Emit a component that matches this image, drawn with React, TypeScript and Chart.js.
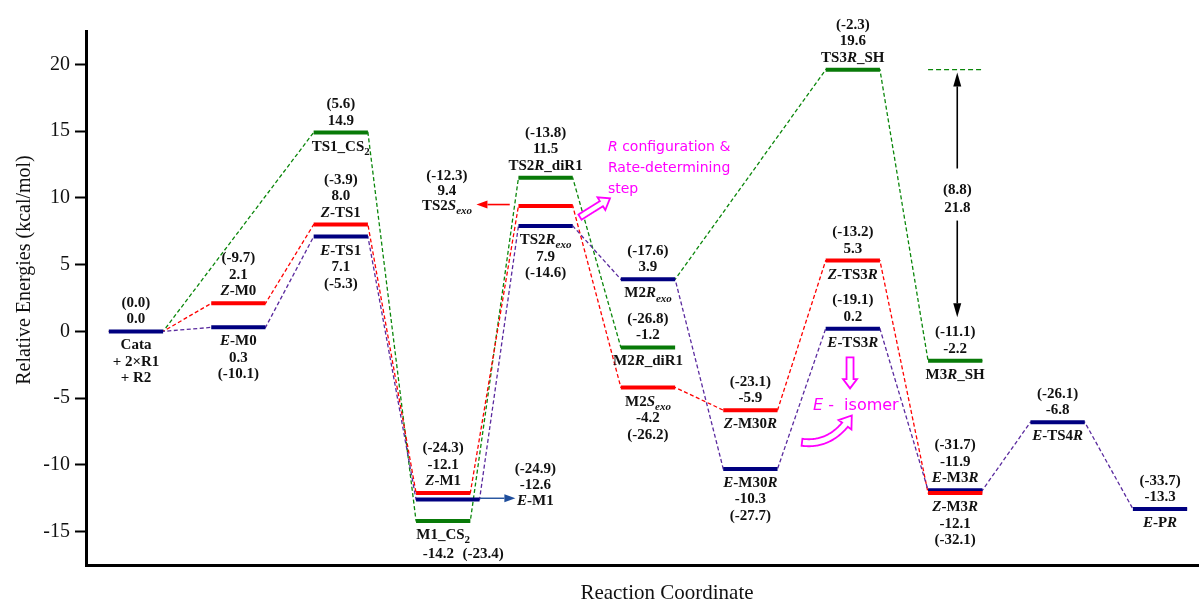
import React, { useEffect, useRef } from 'react';
import { Chart, registerables } from 'chart.js';

Chart.register(...registerables);

// ---------------- data ----------------
const levelNames = ['Cata', 'Z-M0', 'E-M0', 'TS1_CS2', 'Z-TS1', 'E-TS1', 'Z-M1', 'E-M1', 'M1_CS2', 'TS2R_diR1', 'TS2Sexo', 'TS2Rexo', 'M2Rexo', 'M2R_diR1', 'M2Sexo', 'Z-M30R', 'E-M30R', 'TS3R_SH', 'Z-TS3R', 'E-TS3R', 'M3R_SH', 'E-M3R', 'Z-M3R', 'E-TS4R', 'E-PR'];
const levelLabels = ['Cata\n+ 2×R1\n+ R2', '*Z*-M0', '*E*-M0', 'TS1_CS~2~', '*Z*-TS1', '*E*-TS1', '*Z*-M1', '*E*-M1', 'M1_CS~2~', 'TS2*R*_diR1', 'TS2*S*~*exo*~', 'TS2*R*~*exo*~', 'M2*R*~*exo*~', 'M2*R*_diR1', 'M2*S*~*exo*~', '*Z*-M30*R*', '*E*-M30*R*', 'TS3*R*_SH', '*Z*-TS3*R*', '*E*-TS3*R*', 'M3*R*_SH', '*E*-M3*R*', '*Z*-M3*R*', '*E*-TS4*R*', '*E*-P*R*'];
const levelStep = [0, 1, 1, 2, 2, 2, 3, 3, 3, 4, 4, 4, 5, 5, 5, 6, 6, 7, 7, 7, 8, 8, 8, 9, 10];
const levelEnergy = [0.0, 2.1, 0.3, 14.9, 8.0, 7.1, -12.1, -12.6, -14.2, 11.5, 9.4, 7.9, 3.9, -1.2, -4.2, -5.9, -10.3, 19.6, 5.3, 0.2, -2.2, -11.9, -12.1, -6.8, -13.3];
const levelFree = [0.0, -9.7, -10.1, 5.6, -3.9, -5.3, -24.3, -24.9, -23.4, -13.8, -12.3, -14.6, -17.6, -26.8, -26.2, -23.1, -27.7, -2.3, -13.2, -19.1, -11.1, -31.7, -32.1, -26.1, -33.7];
const levelPathway = ['E', 'Z', 'E', 'S', 'Z', 'E', 'Z', 'E', 'S', 'S', 'Z', 'E', 'E', 'S', 'Z', 'Z', 'E', 'S', 'Z', 'E', 'S', 'E', 'Z', 'E', 'E'];

const pathS1 = ['Cata', 'TS1_CS2', 'M1_CS2', 'TS2R_diR1', 'M2R_diR1'];
const pathS2 = ['M2Rexo', 'TS3R_SH', 'M3R_SH'];
const pathZ = ['Cata', 'Z-M0', 'Z-TS1', 'Z-M1', 'TS2Sexo', 'M2Sexo', 'Z-M30R', 'Z-TS3R', 'Z-M3R'];
const pathE = ['Cata', 'E-M0', 'E-TS1', 'E-M1', 'TS2Rexo', 'M2Rexo', 'E-M30R', 'E-TS3R', 'E-M3R', 'E-TS4R', 'E-PR'];

const yTicks = [-15, -10, -5, 0, 5, 10, 15, 20];

const spanTop = 'TS3R_SH';
const spanBottom = 'M3R_SH';
const spanStep = 8;

const noteRate = ['*R* configuration &', 'Rate-determining', 'step'];
const noteIsomer = '*E* -  isomer';
const xTitle = 'Reaction Coordinate';
const yTitle = 'Relative Energies (kcal/mol)';

// ---------------- style / layout ----------------
const HALF = 0.265;
const BAR_EXTRA: Record<string, number> = { 'E-M1': 0.09 };
const COLORS: Record<string, { bar: string; dash: string }> = {
  E: { bar: '#000080', dash: '#5a2a9e' },
  Z: { bar: '#ff0000', dash: '#ff0000' },
  S: { bar: '#087a08', dash: '#0a860a' },
};
const SERIF = '"Liberation Serif", "Times New Roman", serif';
const SANS = '"DejaVu Sans", sans-serif';
const MAGENTA = '#ff00ff';

type Block = { level: string; lines: string[]; side: 'above' | 'below' | 'at'; x?: number; dy?: number; gap?: number };
const A = (level: string, lines: string[]): Block => ({ level, lines, side: 'above' });
const B = (level: string, lines: string[]): Block => ({ level, lines, side: 'below' });
const blocks: Block[] = [
  A('Cata', ['G', 'E']), B('Cata', ['N']),
  A('Z-M0', ['G', 'E', 'N']), B('E-M0', ['N', 'E', 'G']),
  A('TS1_CS2', ['G', 'E']), B('TS1_CS2', ['N']),
  A('Z-TS1', ['G', 'E', 'N']), B('E-TS1', ['N', 'E', 'G']),
  A('Z-M1', ['G', 'E', 'N']),
  { level: 'E-M1', lines: ['G', 'E', 'N'], side: 'at', x: 3.9, dy: -32, gap: 16 },
  B('M1_CS2', ['N']),
  { level: 'M1_CS2', lines: ['E'], side: 'at', x: 2.954, dy: 31.5 },
  { level: 'M1_CS2', lines: ['G'], side: 'at', x: 3.389, dy: 31.5 },
  A('TS2R_diR1', ['G', 'E', 'N']),
  { level: 'TS2Sexo', lines: ['G', 'E', 'N'], side: 'at', x: 3.037, dy: -31, gap: 15 },
  B('TS2Rexo', ['N', 'E', 'G']),
  A('M2Rexo', ['G', 'E']), B('M2Rexo', ['N']),
  A('M2R_diR1', ['G', 'E']), B('M2R_diR1', ['N']),
  B('M2Sexo', ['N', 'E', 'G']),
  A('Z-M30R', ['G', 'E']), B('Z-M30R', ['N']),
  B('E-M30R', ['N', 'E', 'G']),
  A('TS3R_SH', ['G', 'E', 'N']),
  A('Z-TS3R', ['G', 'E']), B('Z-TS3R', ['N']),
  A('E-TS3R', ['G', 'E']), B('E-TS3R', ['N']),
  A('M3R_SH', ['G', 'E']), B('M3R_SH', ['N']),
  A('E-M3R', ['G', 'E', 'N']), B('Z-M3R', ['N', 'E', 'G']),
  A('E-TS4R', ['G', 'E']), B('E-TS4R', ['N']),
  A('E-PR', ['G', 'E']), B('E-PR', ['N']),
];

const idx = (n: string) => levelNames.indexOf(n);
const leftOf = (i: number) => levelStep[i] - HALF;
const rightOf = (i: number) => levelStep[i] + HALF + (BAR_EXTRA[levelNames[i]] ?? 0);

function pathData(path: string[]) {
  const out: { x: number; y: number }[] = [];
  path.forEach((n) => {
    const i = idx(n);
    out.push({ x: leftOf(i), y: levelEnergy[i] }, { x: rightOf(i), y: levelEnergy[i] });
  });
  return out;
}
function barData(group: string) {
  const out: { x: number; y: number | null }[] = [];
  levelNames.forEach((n, i) => {
    if (levelPathway[i] !== group) return;
    out.push({ x: leftOf(i), y: levelEnergy[i] }, { x: rightOf(i), y: levelEnergy[i] }, { x: rightOf(i), y: null });
  });
  return out;
}

function drawRich(ctx: CanvasRenderingContext2D, text: string, x: number, cy: number, size: number, family: string, weight: string, color: string, align: 'center' | 'left') {
  const segs: { t: string; it: boolean; sub: boolean }[] = [];
  let it = false, sub = false, buf = '';
  const flush = () => { if (buf) segs.push({ t: buf, it, sub }); buf = ''; };
  for (const ch of text) {
    if (ch === '*') { flush(); it = !it; } else if (ch === '~') { flush(); sub = !sub; } else buf += ch;
  }
  flush();
  const fontOf = (s: { it: boolean; sub: boolean }) => `${s.it ? 'italic ' : ''}${weight} ${s.sub ? Math.round(size * 0.72) : size}px ${family}`;
  let total = 0;
  const ws = segs.map((s) => { ctx.font = fontOf(s); const w = ctx.measureText(s.t).width; total += w; return w; });
  let px = align === 'center' ? x - total / 2 : x;
  const base = cy + size * 0.34;
  ctx.fillStyle = color;
  ctx.textAlign = 'left';
  ctx.textBaseline = 'alphabetic';
  segs.forEach((s, k) => {
    ctx.font = fontOf(s);
    ctx.fillText(s.t, px, base + (s.sub ? size * 0.28 : 0));
    px += ws[k];
  });
}

function solidArrow(ctx: CanvasRenderingContext2D, x1: number, y1: number, x2: number, y2: number, color: string, lw: number, hl: number, hw: number) {
  const len = Math.hypot(x2 - x1, y2 - y1);
  const dx = (x2 - x1) / len, dy = (y2 - y1) / len;
  const bx = x2 - dx * hl, by = y2 - dy * hl;
  ctx.save();
  ctx.strokeStyle = color; ctx.fillStyle = color; ctx.lineWidth = lw; ctx.setLineDash([]);
  ctx.beginPath(); ctx.moveTo(x1, y1); ctx.lineTo(bx, by); ctx.stroke();
  ctx.beginPath(); ctx.moveTo(x2, y2); ctx.lineTo(bx - dy * hw / 2, by + dx * hw / 2); ctx.lineTo(bx + dy * hw / 2, by - dx * hw / 2); ctx.closePath(); ctx.fill();
  ctx.restore();
}

function hollowArrow(ctx: CanvasRenderingContext2D, p0: number[], c: number[], p1: number[], sw: number, hw: number, hl: number, color: string) {
  const pts: number[][] = [];
  const N = 60;
  for (let k = 0; k <= N; k++) {
    const t = k / N;
    pts.push([(1 - t) * (1 - t) * p0[0] + 2 * (1 - t) * t * c[0] + t * t * p1[0], (1 - t) * (1 - t) * p0[1] + 2 * (1 - t) * t * c[1] + t * t * p1[1]]);
  }
  const tip = pts[N];
  let k = N - 1;
  while (k > 0 && Math.hypot(tip[0] - pts[k][0], tip[1] - pts[k][1]) < hl) k--;
  const Bp = pts[k];
  const dl = Math.hypot(tip[0] - Bp[0], tip[1] - Bp[1]);
  const d = [(tip[0] - Bp[0]) / dl, (tip[1] - Bp[1]) / dl];
  const L: number[][] = [], R: number[][] = [];
  for (let i = 0; i <= k; i++) {
    let t = d;
    if (i < k) {
      const a = pts[Math.max(i - 1, 0)], b = pts[i + 1];
      const l = Math.hypot(b[0] - a[0], b[1] - a[1]);
      t = [(b[0] - a[0]) / l, (b[1] - a[1]) / l];
    }
    const n = [-t[1], t[0]];
    L.push([pts[i][0] + n[0] * sw / 2, pts[i][1] + n[1] * sw / 2]);
    R.push([pts[i][0] - n[0] * sw / 2, pts[i][1] - n[1] * sw / 2]);
  }
  const n = [-d[1], d[0]];
  ctx.save();
  ctx.setLineDash([]);
  ctx.beginPath();
  ctx.moveTo(L[0][0], L[0][1]);
  L.forEach((p) => ctx.lineTo(p[0], p[1]));
  ctx.lineTo(Bp[0] + n[0] * hw / 2, Bp[1] + n[1] * hw / 2);
  ctx.lineTo(tip[0], tip[1]);
  ctx.lineTo(Bp[0] - n[0] * hw / 2, Bp[1] - n[1] * hw / 2);
  for (let i = R.length - 1; i >= 0; i--) ctx.lineTo(R[i][0], R[i][1]);
  ctx.closePath();
  ctx.fillStyle = '#fff';
  ctx.fill();
  ctx.strokeStyle = color;
  ctx.lineWidth = 1.8;
  ctx.lineJoin = 'miter';
  ctx.stroke();
  ctx.restore();
}

const annotPlugin = {
  id: 'annot',
  afterDatasetsDraw(chart: any) {
    const ctx: CanvasRenderingContext2D = chart.ctx;
    const xs = chart.scales.x, ys = chart.scales.y;
    const X = (v: number) => xs.getPixelForValue(v);
    const Y = (v: number) => ys.getPixelForValue(v);
    ctx.save();
    // level labels
    blocks.forEach((b) => {
      const i = idx(b.level);
      const lines: string[] = [];
      b.lines.forEach((code) => {
        if (code === 'G') lines.push(`(${levelFree[i].toFixed(1)})`);
        else if (code === 'E') lines.push(levelEnergy[i].toFixed(1));
        else levelLabels[i].split('\n').forEach((s) => lines.push(s));
      });
      const gap = b.gap ?? 16.5;
      let dy0 = b.dy ?? 0;
      if (b.side === 'above') dy0 = -13 - gap * (lines.length - 1);
      if (b.side === 'below') dy0 = 13;
      const cx = X(b.x ?? levelStep[i]);
      const by = Y(levelEnergy[i]);
      lines.forEach((s, k) => drawRich(ctx, s, cx, by + dy0 + k * gap, 15, SERIF, 'bold', '#111', 'center'));
    });

    // TS2Sexo red arrow
    const sexo = idx('TS2Sexo');
    solidArrow(ctx, X(3.65), Y(levelEnergy[sexo] + 0.1), X(3.325), Y(levelEnergy[sexo] + 0.1), '#ff0000', 1.6, 11, 8);
    // E-M1 blue arrow
    const em1 = idx('E-M1');
    solidArrow(ctx, X(3.36), Y(levelEnergy[em1] + 0.1), X(3.705), Y(levelEnergy[em1] + 0.1), '#1f4e9c', 1.4, 11, 8);

    // span arrow at M3R_SH column
    const top = levelEnergy[idx(spanTop)], bot = levelEnergy[idx(spanBottom)];
    const sx = X(spanStep + 0.02);
    solidArrow(ctx, sx, Y(12.2), sx, Y(top - 0.2), '#000', 1.6, 14, 8);
    solidArrow(ctx, sx, Y(8.3), sx, Y(1.05), '#000', 1.6, 14, 8);
    const gFree = levelFree[idx(spanTop)] - levelFree[idx(spanBottom)];
    drawRich(ctx, `(${gFree.toFixed(1)})`, sx, Y(10.64), 15, SERIF, 'bold', '#111', 'center');
    drawRich(ctx, (top - bot).toFixed(1), sx, Y(9.29), 15, SERIF, 'bold', '#111', 'center');

    // magenta notes
    noteRate.forEach((s, k) => drawRich(ctx, s, X(4.609), Y(13.86) + k * 21, 14, SANS, 'normal', MAGENTA, 'left'));
    drawRich(ctx, noteIsomer, X(6.611), Y(-5.47), 16, SANS, 'normal', MAGENTA, 'left');
    hollowArrow(ctx, [X(4.336), Y(8.56)], [X(4.48), Y(9.26)], [X(4.629), Y(9.96)], 6, 15, 10, MAGENTA);
    hollowArrow(ctx, [X(6.973), Y(-1.95)], [X(6.973), Y(-3.1)], [X(6.973), Y(-4.27)], 7, 14, 9, MAGENTA);
    hollowArrow(ctx, [X(6.504), Y(-8.31)], [X(6.80), Y(-8.6)], [X(6.99), Y(-6.3)], 7, 16, 11, MAGENTA);

    // axis titles
    ctx.fillStyle = '#111';
    ctx.font = `20px ${SERIF}`;
    ctx.textAlign = 'center';
    ctx.textBaseline = 'middle';
    ctx.save();
    ctx.translate(25, 270);
    ctx.rotate(-Math.PI / 2);
    ctx.fillText(yTitle, 0, 0);
    ctx.restore();
    ctx.font = `21px ${SERIF}`;
    ctx.fillText(xTitle, 667, 593);
    ctx.restore();
  },
};

export default function App() {
  const ref = useRef<HTMLCanvasElement>(null);
  useEffect(() => {
    if (!ref.current) return;
    const dashStyle = { borderDash: [4, 2.5], borderWidth: 1.3 };
    const connector = (path: string[], group: string) => ({
      data: pathData(path), showLine: true, pointRadius: 0, borderColor: COLORS[group].dash, ...dashStyle, order: 2,
    });
    const bars = (group: string) => ({
      data: barData(group), showLine: true, pointRadius: 0, borderColor: COLORS[group].bar, borderWidth: 4, spanGaps: false, order: 1, borderCapStyle: 'butt',
    });
    const top = levelEnergy[idx(spanTop)];
    const chart = new Chart(ref.current, {
      type: 'scatter',
      data: {
        datasets: [
          connector(pathE, 'E'),
          connector(pathZ, 'Z'),
          connector(pathS1, 'S'),
          connector(pathS2, 'S'),
          { data: [{ x: spanStep - HALF, y: top }, { x: spanStep + HALF, y: top }], showLine: true, pointRadius: 0, borderColor: COLORS.S.dash, borderDash: [5, 3], borderWidth: 1.3, order: 2 },
          bars('Z'),
          bars('S'),
          bars('E'),
        ] as any,
      },
      options: {
        animation: false,
        responsive: false,
        events: [],
        layout: { padding: { top: 31, right: 1, left: 0, bottom: 0 } },
        plugins: { legend: { display: false }, tooltip: { enabled: false } },
        scales: {
          x: {
            type: 'linear', min: -0.488, max: 10.869,
            afterFit: (s: any) => { s.height = 36; },
            grid: { display: false },
            ticks: { display: false },
            border: { display: true, color: '#000', width: 3 },
          },
          y: {
            type: 'linear', min: -17.5, max: 22.5,
            afterFit: (s: any) => { s.width = 86; },
            afterBuildTicks: (s: any) => { s.ticks = yTicks.map((v) => ({ value: v })); },
            ticks: { color: '#111', font: { family: SERIF, size: 20 }, padding: 5 },
            grid: { drawOnChartArea: false, tickLength: 11, tickWidth: 2, tickColor: '#000' },
            border: { display: true, color: '#000', width: 3 },
          },
        },
      } as any,
      plugins: [annotPlugin],
    });
    return () => chart.destroy();
  }, []);
  return (
    <div style={{ position: 'fixed', left: 0, top: 0, width: 1199, height: 601, overflow: 'hidden', background: '#fff' }}>
      <canvas ref={ref} width={1250} height={601} style={{ display: 'block', width: 1250, height: 601 }} />
    </div>
  );
}
